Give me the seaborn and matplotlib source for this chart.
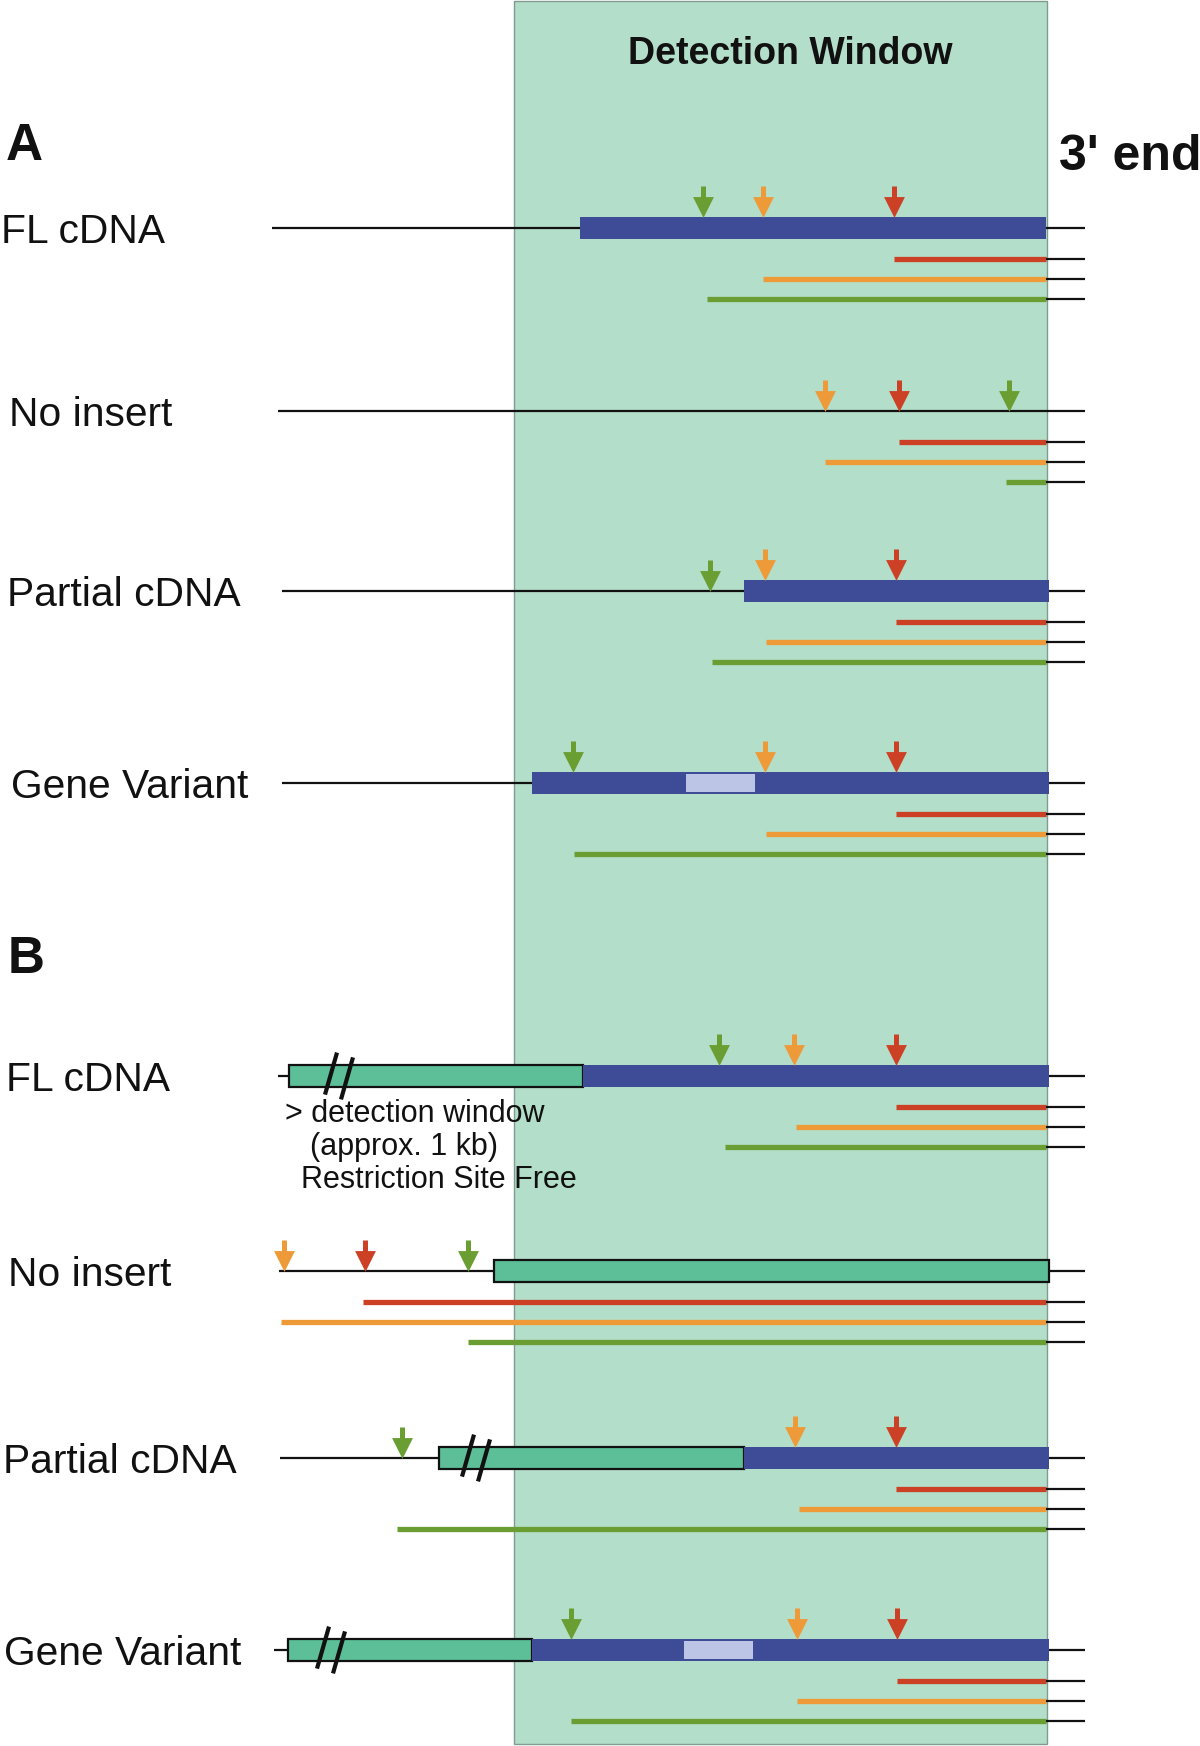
import matplotlib
matplotlib.use("Agg")
import matplotlib.pyplot as plt
import seaborn as sns
import pandas as pd
from matplotlib.patches import Rectangle

# ---------------- data ----------------
labels = ["FL cDNA", "No insert", "Partial cDNA", "Gene Variant",
          "FL cDNA", "No insert", "Partial cDNA", "Gene Variant"]
line_start = [272, 278, 282, 282, 278, 279, 280, 274]
line_end = 1085
window = (514, 1047)
blue_bar = [(580, 1046), None, (744, 1049), (532, 1049),
            (583, 1049), None, (744, 1049), (532, 1049)]
green_box = [None, None, None, None,
             (289, 583), (494, 1049), (439, 744), (288, 532)]
light_patch = [None, None, None, (686, 755), None, None, None, (684, 753)]
red_site = [894, 899, 896, 896, 896, 365, 896, 897]
orange_site = [763, 825, 765, 765, 794, 284, 795, 797]
green_site = [703, 1009, 710, 573, 719, 468, 402, 571]
red_frag = [894, 899, 896, 896, 896, 363, 896, 897]
orange_frag = [763, 825, 766, 766, 796, 281, 799, 797]
green_frag = [707, 1006, 712, 574, 725, 468, 397, 571]
frag_end = 1046
break_x = [None, None, None, None, 339, None, 476, 331]
note_lines = ["> detection window", "(approx. 1 kb)", "Restriction Site Free"]

# ---------------- layout ----------------
W, H = 1200, 1746
row_y = [228, 411, 591, 783, 1076, 1271, 1458, 1650]
label_x = [1, 9, 7, 11, 6, 8, 3, 4]
bar_h = 22
frag_dy = [31, 51, 71]

C_WIN = "#b3dec9"
C_BLUE = "#3e4c98"
C_GBOX = "#5cbf98"
C_RED = "#cc4026"
C_ORANGE = "#ee9a38"
C_GREEN = "#6b9e32"
C_LIGHT = "#bcc5e5"

sns.set_theme(style="white")
plt.rcParams['font.family'] = ['Liberation Sans', 'DejaVu Sans']

fig = plt.figure(figsize=(12, 17.46), dpi=100)
fig.patch.set_facecolor("white")
ax = fig.add_axes([0, 0, 1, 1])
ax.axis("off")

# detection window
ax.add_patch(Rectangle((window[0], 0.5), window[1] - window[0], 1743,
                       facecolor=C_WIN, edgecolor="#7f9c8e", lw=1.0, zorder=0))
ax.text((window[0] + window[1]) / 2 + 10, 64, "Detection Window", fontsize=27,
        fontweight="bold", ha="center", va="baseline", color="#111111")
ax.text(6, 160, "A", fontsize=37, fontweight="bold", ha="left", va="baseline", color="#111111")
ax.text(8, 973, "B", fontsize=37, fontweight="bold", ha="left", va="baseline", color="#111111")
ax.text(1059, 170, "3' end", fontsize=36, fontweight="bold", ha="left", va="baseline",
        color="#111111")

heads = []
for i, y in enumerate(row_y):
    ax.text(label_x[i], y + 15, labels[i], fontsize=29.3, ha="left", va="baseline",
            color="#111111")
    # backbone line
    ax.plot([line_start[i], line_end], [y, y], color="#111111", lw=1.6,
            solid_capstyle="butt", zorder=2)
    tops = []
    if green_box[i] is not None:
        a, b = green_box[i]
        ax.add_patch(Rectangle((a, y - bar_h / 2), b - a, bar_h, facecolor=C_GBOX,
                               edgecolor="#111111", lw=1.6, zorder=3))
        tops.append((a, b))
    if blue_bar[i] is not None:
        a, b = blue_bar[i]
        ax.add_patch(Rectangle((a, y - bar_h / 2), b - a, bar_h, facecolor=C_BLUE,
                               edgecolor="none", zorder=3))
        tops.append((a, b))
    if light_patch[i] is not None:
        a, b = light_patch[i]
        ax.add_patch(Rectangle((a, y - bar_h / 2 + 2), b - a, bar_h - 4,
                               facecolor=C_LIGHT, edgecolor="none", zorder=4))
    if break_x[i] is not None:
        for off in (-8, 8):
            cx = break_x[i] + off
            cy = y + off * 0.3
            ax.plot([cx - 6, cx + 6], [cy + 21, cy - 21], color="#111111", lw=3.0,
                    solid_capstyle="butt", zorder=5)
    # restriction sites
    for xs, col in ((green_site[i], C_GREEN), (orange_site[i], C_ORANGE), (red_site[i], C_RED)):
        tip = y
        for a, b in tops:
            if a <= xs <= b:
                tip = y - bar_h / 2
        ax.plot([xs, xs], [tip - 31, tip - 15], color=col, lw=3.6,
                solid_capstyle="butt", zorder=5)
        heads.append({"x": xs, "y": tip - 10, "c": col})
    # fragments
    for dy, xs, col in zip(frag_dy, (red_frag[i], orange_frag[i], green_frag[i]),
                           (C_RED, C_ORANGE, C_GREEN)):
        ax.plot([xs, frag_end], [y + dy, y + dy], color=col, lw=3.8,
                solid_capstyle="butt", zorder=3)
        ax.plot([frag_end, line_end], [y + dy, y + dy], color="#111111", lw=1.6,
                solid_capstyle="butt", zorder=3)

hd = pd.DataFrame(heads)
for col, sub in hd.groupby("c"):
    sns.scatterplot(data=sub, x="x", y="y", color=col, marker="v", s=15.0 ** 2,
                    linewidth=0, ax=ax, zorder=6, legend=False)

# note under B FL cDNA
note_x = [285, 310, 301]
note_base = [1122, 1155, 1188]
for t, xx, yy in zip(note_lines, note_x, note_base):
    ax.text(xx, yy, t, fontsize=22, ha="left", va="baseline", color="#111111", zorder=7)

ax.set_xlim(0, W)
ax.set_ylim(H, 0)
ax.set_xlabel("")
ax.set_ylabel("")
fig.savefig("out.png", dpi=100, facecolor="white")
